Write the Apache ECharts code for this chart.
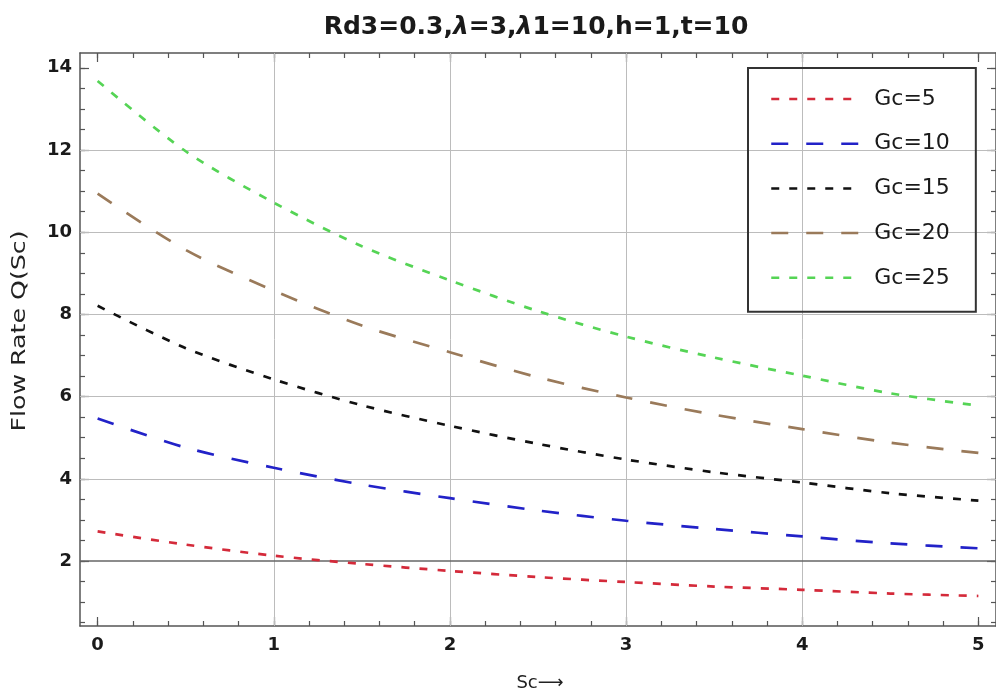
<!DOCTYPE html>
<html>
<head>
<meta charset="utf-8">
<script src="https://cdn.jsdelivr.net/npm/echarts@6/dist/echarts.min.js"></script>
<style>
html, body { margin: 0; padding: 0; background: #fff; }
#chart { width: 996px; height: 700px; }
</style>
</head>
<body>
<div id="chart"></div>
<script>
// values
const scValues = [0, 0.5, 1, 1.5, 2, 2.5, 3, 3.5, 4, 4.5, 5];
const seriesNames = ['Gc=5', 'Gc=10', 'Gc=15', 'Gc=20', 'Gc=25'];
const gc5 = [2.72, 2.40, 2.13, 1.93, 1.76, 1.61, 1.49, 1.38, 1.30, 1.21, 1.15];
const gc10 = [5.47, 4.76, 4.27, 3.86, 3.53, 3.23, 2.98, 2.78, 2.60, 2.43, 2.31];
const gc15 = [8.21, 7.18, 6.42, 5.79, 5.29, 4.85, 4.47, 4.16, 3.91, 3.65, 3.47];
const gc20 = [10.94, 9.57, 8.58, 7.73, 7.08, 6.47, 5.98, 5.56, 5.21, 4.88, 4.63];
const gc25 = [13.68, 11.97, 10.72, 9.66, 8.83, 8.08, 7.46, 6.95, 6.51, 6.08, 5.78];

const xTickLabels = [0, 1, 2, 3, 4, 5];
const yTickLabels = [2, 4, 6, 8, 10, 12, 14];
const xGridLines = [1, 2, 3, 4];
const yGridLines = [4, 6, 8, 10, 12];
const xAxisLineAt = 2;

const xMinor = Array.from({length: 26}, (_, i) => +(i * 0.2).toFixed(1));
const yMinor = Array.from({length: 28}, (_, i) => (i + 1) * 0.5);

document.addEventListener('DOMContentLoaded', function() {
    const chart = echarts.init(document.getElementById('chart'));
    const font = 'DejaVu Sans';
    const frameColor = '#555';

    function xAxisDef(position, ticks, len, withLabels, withLine) {
        return {
            type: 'value', position: position, min: -0.1, max: 5.1,
            axisLine: { show: withLine, onZero: false, lineStyle: { color: frameColor, width: 1.5 } },
            axisTick: { show: true, inside: true, length: len, customValues: ticks,
                lineStyle: { color: frameColor, width: 1.2 } },
            axisLabel: withLabels ? {
                show: true, customValues: ticks, margin: 10,
                fontFamily: font, fontSize: 18, fontWeight: 'bold', color: '#1a1a1a'
            } : { show: false },
            splitLine: { show: false }
        };
    }

    function yAxisDef(position, ticks, len, withLabels, withLine) {
        return {
            type: 'value', position: position, min: 0.42, max: 14.36,
            axisLine: { show: withLine, onZero: false, lineStyle: { color: frameColor, width: 1.5 } },
            axisTick: { show: true, inside: true, length: len, customValues: ticks,
                lineStyle: { color: frameColor, width: 1.2 } },
            axisLabel: withLabels ? {
                show: true, customValues: ticks, margin: 8,
                fontFamily: font, fontSize: 18, fontWeight: 'bold', color: '#1a1a1a'
            } : { show: false },
            splitLine: { show: false }
        };
    }

    const styles = [
        { color: '#d42a3a', dash: [8, 10] },
        { color: '#2222c8', dash: [17, 18] },
        { color: '#111111', dash: [8, 10] },
        { color: '#9a7a5a', dash: [17, 18] },
        { color: '#55d455', dash: [8, 10] }
    ];
    const values = [gc5, gc10, gc15, gc20, gc25];

    const lines = seriesNames.map((name, k) => ({
        name: name,
        type: 'line',
        smooth: 0.3,
        symbol: 'none',
        xAxisIndex: 0,
        yAxisIndex: 0,
        lineStyle: { color: styles[k].color, width: 2.7, type: styles[k].dash },
        itemStyle: { color: styles[k].color },
        data: scValues.map((x, i) => [x, values[k][i]])
    }));

    const gridSeries = {
        name: 'grid',
        type: 'line',
        data: [],
        xAxisIndex: 0,
        yAxisIndex: 0,
        markLine: {
            silent: true,
            z: 1,
            symbol: ['none', 'none'],
            label: { show: false },
            animation: false,
            lineStyle: { color: '#bcbcbc', width: 1, type: 'solid' },
            data: xGridLines.map(v => ({ xAxis: v }))
                .concat(yGridLines.map(v => ({ yAxis: v })))
                .concat([{ yAxis: xAxisLineAt, lineStyle: { color: '#666', width: 1.6, type: 'solid' } }])
        }
    };

    const option = {
        animation: false,
        backgroundColor: '#fff',
        grid: { left: 80, top: 53, right: -4, bottom: 74 },
        xAxis: [
            xAxisDef('bottom', xTickLabels, 9, true, true),
            xAxisDef('bottom', xMinor, 5, false, false),
            xAxisDef('top', xTickLabels, 9, false, true),
            xAxisDef('top', xMinor, 5, false, false)
        ],
        yAxis: [
            yAxisDef('left', yTickLabels, 9, true, true),
            yAxisDef('left', yMinor, 5, false, false),
            yAxisDef('right', yTickLabels, 9, false, true),
            yAxisDef('right', yMinor, 5, false, false)
        ],
        legend: {
            data: seriesNames,
            orient: 'vertical',
            left: 748,
            top: 68,
            padding: [20, 26, 23, 22],
            itemWidth: 87,
            itemHeight: 24,
            itemGap: 22.7,
            borderColor: '#333',
            borderWidth: 2,
            backgroundColor: 'transparent',
            selectedMode: false,
            itemStyle: { opacity: 0 },
            lineStyle: { width: 2.5 },
            textStyle: { fontFamily: font, fontSize: 22, color: '#1a1a1a', padding: [0, 0, 0, 11] }
        },
        graphic: [
            {
                type: 'text', x: 536, y: 27,
                style: {
                    text: 'Rd3=0.3,{i|λ}=3,{i|λ}1=10,h=1,t=10',
                    align: 'center', verticalAlign: 'middle',
                    fontFamily: font, fontSize: 25, fontWeight: 'bold', fill: '#1a1a1a',
                    rich: { i: { fontFamily: font, fontSize: 25, fontWeight: 'bold', fontStyle: 'italic', fill: '#1a1a1a' } }
                }
            },
            {
                type: 'text', x: 20, y: 331, rotation: Math.PI / 2, scaleX: 1.33,
                style: {
                    text: 'Flow Rate Q(Sc)', align: 'center', verticalAlign: 'middle',
                    fontFamily: font, fontSize: 19, fill: '#222'
                }
            },
            {
                type: 'text', x: 540, y: 683,
                style: {
                    text: 'Sc⟶', align: 'center', verticalAlign: 'middle',
                    fontFamily: font, fontSize: 18, fill: '#222'
                }
            }
        ],
        series: [gridSeries].concat(lines)
    };
    chart.setOption(option);
});
</script>
</body>
</html>
